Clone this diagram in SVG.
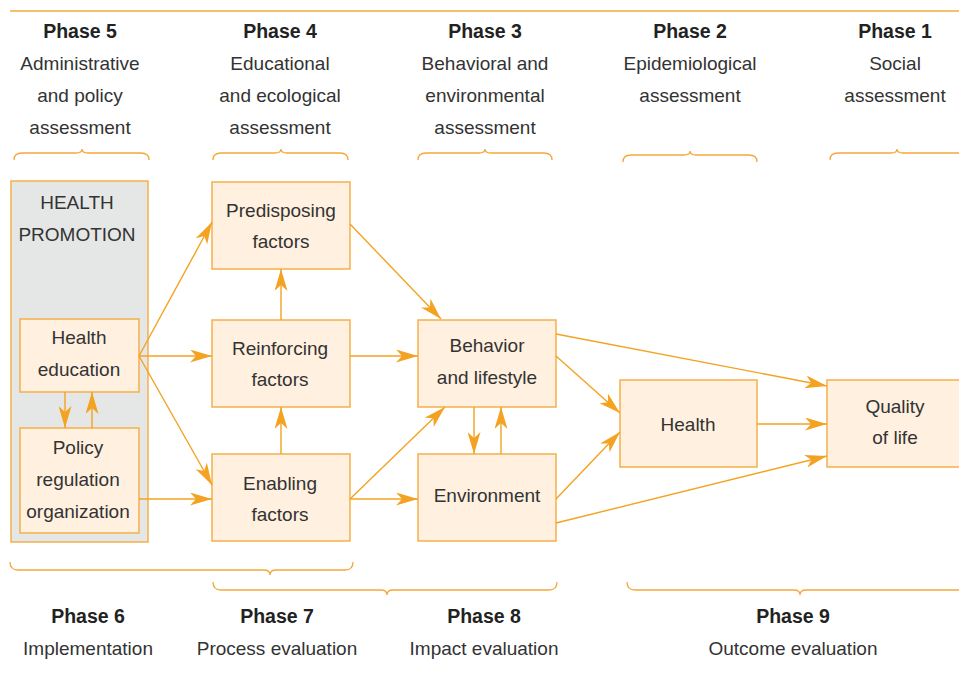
<svg xmlns="http://www.w3.org/2000/svg" width="959" height="675" viewBox="0 0 959 675">
<defs>
<marker id="ah" viewBox="0 0 22 13" refX="22" refY="6.5" markerWidth="22" markerHeight="13" markerUnits="userSpaceOnUse" orient="auto">
<path d="M0,0 L22,6.5 L0,13 L6,6.5 z" fill="#f3a321"/>
</marker>
<style>
text{font-family:"Liberation Sans",Arial,sans-serif;font-size:19px;fill:#333;text-anchor:middle}
.h{font-weight:bold;font-size:19.5px;fill:#222}
.box{fill:#fff0df;stroke:#f5b04a;stroke-width:1.5}
.grey{fill:#e5e7e6;stroke:#f5b04a;stroke-width:1.5}
.br{fill:none;stroke:#f5a83a;stroke-width:1.3}
.c{fill:none;stroke:#f3a321;stroke-width:1.4;marker-end:url(#ah)}
</style>
</defs>
<rect width="959" height="675" fill="#fff"/>
<line x1="10" y1="11" x2="959" y2="11" class="br"/>

<g id="headers">
<text x="80" y="38" class="h">Phase 5</text>
<text x="80" y="70">Administrative</text>
<text x="80" y="102">and policy</text>
<text x="80" y="134">assessment</text>
<text x="280" y="38" class="h">Phase 4</text>
<text x="280" y="70">Educational</text>
<text x="280" y="102">and ecological</text>
<text x="280" y="134">assessment</text>
<text x="485" y="38" class="h">Phase 3</text>
<text x="485" y="70">Behavioral and</text>
<text x="485" y="102">environmental</text>
<text x="485" y="134">assessment</text>
<text x="690" y="38" class="h">Phase 2</text>
<text x="690" y="70">Epidemiological</text>
<text x="690" y="102">assessment</text>
<text x="895" y="38" class="h">Phase 1</text>
<text x="895" y="70">Social</text>
<text x="895" y="102">assessment</text>
</g>

<g id="braces">
<path class="br" d="M14,160 Q14,153 22,153 L76,153 Q82,153 82,149 Q82,153 88,153 L141,153 Q149,153 149,160"/>
<path class="br" d="M213,160 Q213,153 221,153 L275,153 Q281,153 281,149 Q281,153 287,153 L340,153 Q348,153 348,160"/>
<path class="br" d="M418,160 Q418,153 426,153 L479,153 Q485,153 485,149 Q485,153 491,153 L544,153 Q552,153 552,160"/>
<path class="br" d="M623,162 Q623,155 631,155 L684,155 Q690,155 690,151 Q690,155 696,155 L749,155 Q757,155 757,162"/>
<path class="br" d="M830,160 Q830,153 838,153 L891,153 Q897,153 897,149 Q897,153 903,153 L959,153"/>
<path class="br" d="M10,562 Q10,570 18,570 L264,570 Q270,570 270,575 Q270,570 276,570 L345,570 Q353,570 353,562"/>
<path class="br" d="M213,582 Q213,590 221,590 L381,590 Q387,590 387,595 Q387,590 393,590 L549,590 Q557,590 557,582"/>
<path class="br" d="M627,582 Q627,590 635,590 L794,590 Q800,590 800,595 Q800,590 806,590 L959,590"/>
</g>

<g id="health-promotion">
<rect x="11" y="181" width="137" height="361" class="grey"/>
<text x="77" y="209">HEALTH</text>
<text x="77" y="241">PROMOTION</text>
</g>
<g id="health-education">
<rect x="20" y="319" width="119" height="73" class="box"/>
<text x="79" y="344">Health</text>
<text x="79" y="376">education</text>
</g>
<g id="policy">
<rect x="20" y="428" width="119" height="105" class="box"/>
<text x="78" y="454">Policy</text>
<text x="78" y="486">regulation</text>
<text x="78" y="518">organization</text>
</g>
<g id="predisposing">
<rect x="212" y="182" width="138" height="87" class="box"/>
<text x="281" y="217">Predisposing</text>
<text x="281" y="248">factors</text>
</g>
<g id="reinforcing">
<rect x="212" y="320" width="138" height="87" class="box"/>
<text x="280" y="355">Reinforcing</text>
<text x="280" y="386">factors</text>
</g>
<g id="enabling">
<rect x="212" y="454" width="138" height="87" class="box"/>
<text x="280" y="490">Enabling</text>
<text x="280" y="521">factors</text>
</g>
<g id="behavior">
<rect x="418" y="320" width="138" height="87" class="box"/>
<text x="487" y="352">Behavior</text>
<text x="487" y="384">and lifestyle</text>
</g>
<g id="environment">
<rect x="418" y="454" width="138" height="87" class="box"/>
<text x="487" y="502">Environment</text>
</g>
<g id="health">
<rect x="620" y="380" width="137" height="87" class="box"/>
<text x="688" y="431">Health</text>
</g>
<g id="quality">
<rect x="827" y="380" width="140" height="87" class="box"/>
<text x="895" y="413">Quality</text>
<text x="895" y="444">of life</text>
</g>

<g id="connectors">
<line class="c" x1="139" y1="356" x2="212" y2="222"/>
<line class="c" x1="139" y1="356" x2="212" y2="356"/>
<line class="c" x1="139" y1="356" x2="212" y2="485"/>
<line class="c" x1="139" y1="499" x2="212" y2="499"/>
<line class="c" x1="65" y1="392" x2="65" y2="428"/>
<line class="c" x1="92" y1="428" x2="92" y2="392"/>
<line class="c" x1="281" y1="320" x2="281" y2="269"/>
<line class="c" x1="281" y1="454" x2="281" y2="407"/>
<line class="c" x1="350" y1="224" x2="441" y2="319"/>
<line class="c" x1="350" y1="356" x2="418" y2="356"/>
<line class="c" x1="350" y1="499" x2="445" y2="407"/>
<line class="c" x1="350" y1="499" x2="418" y2="499"/>
<line class="c" x1="474" y1="407" x2="474" y2="454"/>
<line class="c" x1="501" y1="454" x2="501" y2="407"/>
<line class="c" x1="556" y1="334" x2="827" y2="386"/>
<line class="c" x1="556" y1="356" x2="620" y2="413"/>
<line class="c" x1="556" y1="499" x2="620" y2="432"/>
<line class="c" x1="556" y1="523" x2="827" y2="456"/>
<line class="c" x1="757" y1="424" x2="827" y2="424"/>
</g>

<g id="footers">
<text x="88" y="623" class="h">Phase 6</text>
<text x="88" y="655">Implementation</text>
<text x="277" y="623" class="h">Phase 7</text>
<text x="277" y="655">Process evaluation</text>
<text x="484" y="623" class="h">Phase 8</text>
<text x="484" y="655">Impact evaluation</text>
<text x="793" y="623" class="h">Phase 9</text>
<text x="793" y="655">Outcome evaluation</text>
</g>
</svg>
